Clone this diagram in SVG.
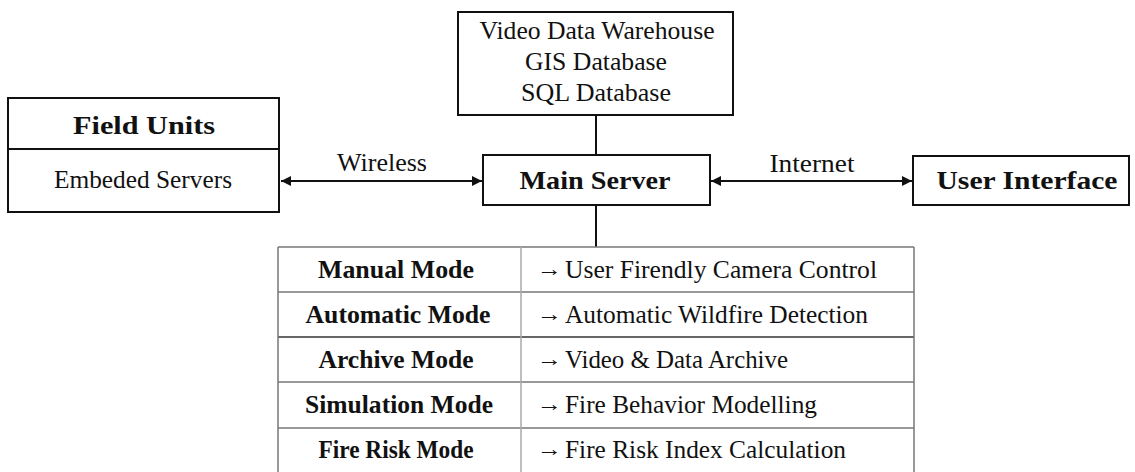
<svg xmlns="http://www.w3.org/2000/svg" width="1135" height="472" viewBox="0 0 1135 472">
<style>
text{font-family:"Liberation Serif","DejaVu Serif",serif;fill:#111}
.r{font-size:24.5px}
.a{font-size:22px}
.b{font-size:25.5px;font-weight:bold}
.h{font-size:26px;font-weight:bold}
.box{fill:#fff;stroke:#111;stroke-width:2}
.c{stroke:#111;stroke-width:2;fill:none}
.t{stroke:#777;stroke-width:1.5;fill:none}
.v{stroke:#aaa;stroke-width:1.5;fill:none}
</style>
<defs>
<marker id="ah" viewBox="0 0 10 10" refX="10" refY="5" markerWidth="5" markerHeight="5" orient="auto-start-reverse" markerUnits="strokeWidth">
<path d="M0,0 L10,5 L0,10 z" fill="#111"/>
</marker>
</defs>
<rect width="1135" height="472" fill="#fff"/>
<g id="connectors">
<line class="c" x1="596" y1="115" x2="596" y2="155"/>
<line class="c" x1="596" y1="205" x2="596" y2="247"/>
<line class="c" x1="281" y1="181" x2="482" y2="181" marker-start="url(#ah)" marker-end="url(#ah)"/>
<text class="r" x="382" y="171" text-anchor="middle" textLength="90" lengthAdjust="spacingAndGlyphs">Wireless</text>
<line class="c" x1="711" y1="181" x2="912" y2="181" marker-start="url(#ah)" marker-end="url(#ah)"/>
<text class="r" x="812" y="172" text-anchor="middle" textLength="85" lengthAdjust="spacingAndGlyphs">Internet</text>
</g>
<g id="field-units">
<rect class="box" x="8" y="98" width="271" height="114"/>
<line class="c" x1="8" y1="149" x2="279" y2="149"/>
<text class="h" x="144" y="134" text-anchor="middle" textLength="142" lengthAdjust="spacingAndGlyphs">Field Units</text>
<text class="r" x="143" y="188" text-anchor="middle" textLength="178" lengthAdjust="spacingAndGlyphs">Embeded Servers</text>
</g>
<g id="databases">
<rect class="box" x="458" y="12" width="275" height="103"/>
<text class="r" x="597" y="39" text-anchor="middle" textLength="235" lengthAdjust="spacingAndGlyphs">Video Data Warehouse</text>
<text class="r" x="596" y="70" text-anchor="middle" textLength="142" lengthAdjust="spacingAndGlyphs">GIS Database</text>
<text class="r" x="596" y="101" text-anchor="middle" textLength="150" lengthAdjust="spacingAndGlyphs">SQL Database</text>
</g>
<g id="main-server">
<rect class="box" x="483" y="155" width="227" height="50"/>
<text class="h" x="595" y="189" text-anchor="middle" textLength="151" lengthAdjust="spacingAndGlyphs">Main Server</text>
</g>
<g id="user-interface">
<rect class="box" x="913" y="156" width="216" height="49"/>
<text class="h" x="1027" y="189" text-anchor="middle" textLength="181" lengthAdjust="spacingAndGlyphs">User Interface</text>
</g>
<g id="modes-table">
<line class="t" x1="278" y1="247" x2="914" y2="247"/>
<line class="t" x1="278" y1="292" x2="914" y2="292"/>
<line class="t" x1="278" y1="337" x2="914" y2="337" style="stroke:#333"/>
<line class="t" x1="278" y1="382" x2="914" y2="382"/>
<line class="t" x1="278" y1="428" x2="914" y2="428"/>
<line class="t" x1="278" y1="247" x2="278" y2="473"/>
<line class="t" x1="914" y1="247" x2="914" y2="473"/>
<line class="v" x1="521" y1="247" x2="521" y2="473"/>
<text class="b" x="396" y="278" text-anchor="middle" textLength="156" lengthAdjust="spacingAndGlyphs">Manual Mode</text>
<text class="b" x="398" y="323" text-anchor="middle" textLength="185" lengthAdjust="spacingAndGlyphs">Automatic Mode</text>
<text class="b" x="396" y="368" text-anchor="middle" textLength="155" lengthAdjust="spacingAndGlyphs">Archive Mode</text>
<text class="b" x="399" y="413" text-anchor="middle" textLength="188" lengthAdjust="spacingAndGlyphs">Simulation Mode</text>
<text class="b" x="396" y="458" text-anchor="middle" textLength="155" lengthAdjust="spacingAndGlyphs">Fire Risk Mode</text>
<text class="a" x="537" y="276" textLength="25" lengthAdjust="spacingAndGlyphs">→</text>
<text class="r" x="565" y="278" textLength="312" lengthAdjust="spacingAndGlyphs">User Firendly Camera Control</text>
<text class="a" x="537" y="321" textLength="25" lengthAdjust="spacingAndGlyphs">→</text>
<text class="r" x="565" y="323" textLength="303" lengthAdjust="spacingAndGlyphs">Automatic Wildfire Detection</text>
<text class="a" x="537" y="366" textLength="25" lengthAdjust="spacingAndGlyphs">→</text>
<text class="r" x="565" y="368" textLength="223" lengthAdjust="spacingAndGlyphs">Video &amp; Data Archive</text>
<text class="a" x="537" y="411" textLength="25" lengthAdjust="spacingAndGlyphs">→</text>
<text class="r" x="565" y="413" textLength="252" lengthAdjust="spacingAndGlyphs">Fire Behavior Modelling</text>
<text class="a" x="537" y="456" textLength="25" lengthAdjust="spacingAndGlyphs">→</text>
<text class="r" x="565" y="458" textLength="281" lengthAdjust="spacingAndGlyphs">Fire Risk Index Calculation</text>
</g>
</svg>
